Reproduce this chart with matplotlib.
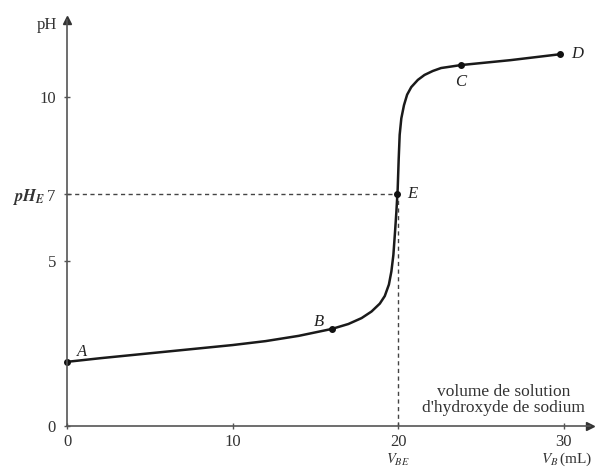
import matplotlib.pyplot as plt

plt.rcParams['font.family'] = ['Liberation Serif', 'DejaVu Serif']
plt.rcParams['mathtext.fontset'] = 'stix'

# titration curve: V (mL), pH
vol = [0, 2, 4, 6, 8, 10, 12, 14, 16, 17, 17.8, 18.4, 18.9, 19.2, 19.45, 19.6,
       19.72, 19.82, 19.9, 19.98, 20.04, 20.1, 20.2, 20.36, 20.55, 20.8, 21.2,
       21.6, 22.1, 22.6, 23.8, 26.8, 29.8]
ph = [1.95, 2.06, 2.16, 2.26, 2.36, 2.46, 2.58, 2.74, 2.95, 3.1, 3.28, 3.48,
      3.72, 3.95, 4.3, 4.7, 5.2, 5.9, 6.5, 7.2, 8.1, 8.85, 9.35, 9.75, 10.07,
      10.3, 10.52, 10.67, 10.79, 10.88, 10.97, 11.12, 11.3]

pt_names = ['A', 'B', 'E', 'C', 'D']
pt_vol = [0, 16, 19.95, 23.8, 29.8]
pt_ph = [1.95, 2.95, 7.05, 10.97, 11.3]

v_eq = 20
ph_eq = 7.05

fig = plt.figure(figsize=(5.98, 4.69), dpi=100)
ax = fig.add_axes([67 / 598, 43 / 469, 523 / 598, 406 / 469])
ax.set_xlim(0, 31.6)
ax.set_ylim(0, 12.34)

for s in ['top', 'right']:
    ax.spines[s].set_visible(False)
for s in ['left', 'bottom']:
    ax.spines[s].set_color('#555555')
    ax.spines[s].set_linewidth(1.2)

# arrow heads on the axes
ax.plot(1, 0, '>', color='#333333', ms=6, transform=ax.transAxes, clip_on=False)
ax.plot(0, 1, '^', color='#333333', ms=6, transform=ax.transAxes, clip_on=False)

ax.plot(vol, ph, color='#1a1a1a', lw=1.8, solid_capstyle='round', solid_joinstyle='round')

# dashed guides to E
ax.plot([0, v_eq], [ph_eq, ph_eq], ls=(0, (3, 2.5)), color='#444444', lw=1)
ax.plot([v_eq, v_eq], [0, ph_eq], ls=(0, (3, 2.5)), color='#444444', lw=1)

ax.plot(pt_vol, pt_ph, 'o', color='#111111', ms=4, clip_on=False)

offsets = {'A': (0.9, 0.3), 'B': (-0.8, 0.22), 'E': (0.9, 0), 'C': (0, -0.5), 'D': (1.0, 0)}
for n, v, p in zip(pt_names, pt_vol, pt_ph):
    dx, dy = offsets[n]
    ax.text(v + dx, p + dy, n, style='italic', fontsize=12, ha='center', va='center',
            color='#222222')

ax.set_xticks([0, 10, 20, 30])
ax.set_xticklabels(['0', '10', '20', '30'])
ax.set_yticks([0, 5, ph_eq, 10])
ax.set_yticklabels(['0', '5', r'$\mathbfit{pH_E}\,$7', '10'])
ax.tick_params(length=4, width=1, color='#555555', labelsize=12, labelcolor='#333333')
ax.tick_params(axis='y', direction='inout', pad=6)
ax.tick_params(axis='x', direction='inout', pad=4)

ax.text(-0.6, 12.2, 'pH', fontsize=12, ha='right', va='center', color='#333333')

ax.text(20, -1.02, r'$V_{BE}$', fontsize=10.5, ha='center', va='center', color='#333333')
ax.text(31.7, -1.02, r'$V_B\,$(mL)', fontsize=11, ha='right', va='center', color='#333333')

ax.text(26.4, 0.8, "volume de solution\nd'hydroxyde de sodium", fontsize=12.5,
        ha='center', va='center', linespacing=1.0, color='#333333')

fig.savefig('out.png', dpi=100)
